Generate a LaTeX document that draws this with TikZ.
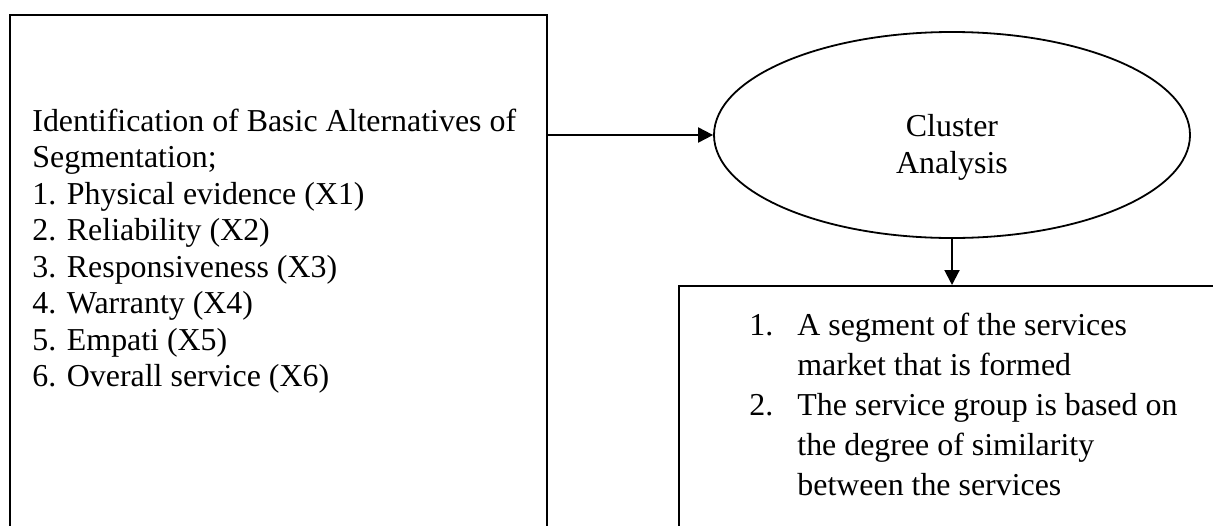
\documentclass[tikz,border=0pt]{standalone}
\usepackage{fontspec}
\setmainfont{Liberation Serif}
\usepackage{tikz}
\usetikzlibrary{shapes.geometric,arrows.meta}

\begin{document}
\begin{tikzpicture}[x=0.5pt, y=-0.5pt, every node/.style={inner sep=0pt, font=\fontsize{15.95}{18.25}\selectfont}, box/.style={rectangle, draw=black, line width=1pt}, oval/.style={ellipse, draw=black, line width=0.9pt, minimum width=238pt, minimum height=103pt}, arr/.style={draw=black, line width=1pt, -{Triangle[length=7.5pt, width=7.5pt]}}]
				\useasboundingbox (0,0) rectangle (1213,525);
				\clip (0,0) rectangle (1213,525);
				
				\node[box, minimum width = 268.5pt, minimum height = 272.5pt] (segbox) at (278.5,287.5){};
				\node[oval] (cluster) at (952,135){};
				\node[box, minimum width = 280.5pt, minimum height = 137pt] (resbox) at (959.5,423){};
				\coordinate (arrstart) at (segbox.east |- cluster.west);
				\coordinate (arrend) at (cluster.south |- resbox.north);
				
				\draw[arr] (arrstart) -- (cluster.west);
				\draw[arr] (cluster.south) -- (arrend);
				
				\node[anchor = north west] (segtext) at (32,105.5){\begin{tabular}{@{}l@{}}Identification of Basic Alternatives of\\Segmentation;\\1. Physical evidence (X1)\\2. Reliability (X2)\\3. Responsiveness (X3)\\4. Warranty (X4)\\5. Empati (X5)\\6. Overall service (X6)\end{tabular}};
				\node[align = center, font = \fontsize{15.95}{18.5}\selectfont] (clustertext) at (952,147){Cluster\\Analysis};
				\node[anchor = north west, font = \fontsize{15.95}{20}\selectfont] (restext) at (749,307.5){\begin{tabular}{@{}p{24pt}@{}l@{}}1. & A segment of the services\\ & market that is formed\\2. & The service group is based on\\ & the degree of similarity\\ & between the services\end{tabular}};
\end{tikzpicture}
\end{document}
